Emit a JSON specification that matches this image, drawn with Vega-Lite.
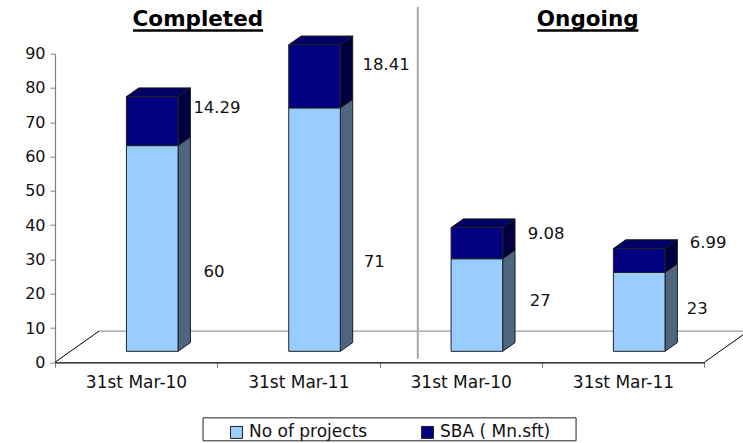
{
"$schema":"https://vega.github.io/schema/vega-lite/v6.json",
"width":649.3,"height":308.6,
"autosize":{"type":"none"},
"padding":{"left":55,"top":53.7,"right":38.7,"bottom":80.7},
"background":"white",
"config":{"view":{"stroke":null},"font":"DejaVu Sans"},
"data":{"values":[{"chart":"frame"}]},
"datasets":{"bars":[
{"status":"Completed","period":"31st Mar-10","slot":0,"series":"No of projects","order":0,"value":60},
{"status":"Completed","period":"31st Mar-10","slot":0,"series":"SBA ( Mn.sft)","order":1,"value":14.29},
{"status":"Completed","period":"31st Mar-11","slot":1,"series":"No of projects","order":0,"value":71},
{"status":"Completed","period":"31st Mar-11","slot":1,"series":"SBA ( Mn.sft)","order":1,"value":18.41},
{"status":"Ongoing","period":"31st Mar-10","slot":2,"series":"No of projects","order":0,"value":27},
{"status":"Ongoing","period":"31st Mar-10","slot":2,"series":"SBA ( Mn.sft)","order":1,"value":9.08},
{"status":"Ongoing","period":"31st Mar-11","slot":3,"series":"No of projects","order":0,"value":23},
{"status":"Ongoing","period":"31st Mar-11","slot":3,"series":"SBA ( Mn.sft)","order":1,"value":6.99}
],
"titles":[{"status":"Completed","cx":0.88,"x0":0.481,"x1":1.282},{"status":"Ongoing","cx":3.282,"x0":2.971,"x1":3.594}]},
"layer":[
{"mark":{"type":"rule","color":"#808080","strokeWidth":1},
 "encoding":{
  "x":{"datum":0.271,"type":"quantitative","title":null,"scale":{"domain":[0,4],"nice":false,"zero":false},
   "axis":{"values":[0,1,2,3,4],"grid":false,"domainColor":"#000000","domainWidth":1.2,"tickColor":"#808080","tickSize":5,"labelOffset":81,"labelPadding":7,"labelFontSize":17,"labelColor":"#111111","labelFont":"DejaVu Sans","labelOverlap":false,"labelFlush":false,"labelExpr":"datum.value==0||datum.value==2?'31st Mar-10':(datum.value==1||datum.value==3?'31st Mar-11':'')"}},
  "x2":{"datum":4.3},
  "y":{"datum":9.1,"type":"quantitative","title":null,"scale":{"domain":[0,90],"nice":false,"zero":false},
   "axis":{"values":[0,10,20,30,40,50,60,70,80,90],"tickCount":10,"grid":false,"domainColor":"#808080","domainWidth":1.2,"tickColor":"#808080","tickSize":5,"labelPadding":5,"labelFontSize":16,"labelColor":"#111111","labelFont":"DejaVu Sans","labelOverlap":false,"labelFlush":false}}
 }},
{"mark":{"type":"rule","color":"#000000","strokeWidth":1},
 "encoding":{"x":{"datum":0,"type":"quantitative","title":null},"x2":{"datum":0.271},"y":{"datum":0,"type":"quantitative","title":null},"y2":{"datum":9.1}}},
{"mark":{"type":"rule","color":"#000000","strokeWidth":1},
 "encoding":{"x":{"datum":4,"type":"quantitative","title":null},"x2":{"datum":4.271},"y":{"datum":0,"type":"quantitative","title":null},"y2":{"datum":9.1}}},
{"mark":{"type":"rule","color":"#A6A6A6","strokeWidth":2},
 "encoding":{"x":{"datum":2.235,"type":"quantitative","title":null},"y":{"datum":1,"type":"quantitative","title":null},"y2":{"datum":103.6}}},
{"data":{"name":"bars"},
 "transform":[
  {"stack":"value","groupby":["slot"],"sort":[{"field":"order","order":"ascending"}],"as":["v0","v1"]},
  {"calculate":"[0,1]","as":"ts"},{"flatten":["ts"]},
  {"calculate":"datum.slot+0.758+datum.ts*0.076","as":"sx"},
  {"calculate":"datum.v0+3.2+datum.ts*2.54","as":"sy0"},
  {"calculate":"datum.v1+3.2+datum.ts*2.54","as":"sy1"},
  {"calculate":"datum.slot+'-'+datum.order","as":"face"}
 ],
 "mark":{"type":"area","stroke":"#1a1a1a","strokeWidth":1},
 "encoding":{
  "x":{"field":"sx","type":"quantitative","title":null},
  "y":{"field":"sy0","type":"quantitative","title":null,"stack":null},
  "y2":{"field":"sy1"},
  "detail":{"field":"face"},
  "color":{"field":"series","type":"nominal","legend":null,"scale":{"domain":["No of projects","SBA ( Mn.sft)"],"range":["#4F6680","#000040"]}}
 }},
{"data":{"name":"bars"},
 "transform":[
  {"stack":"value","groupby":["slot"],"sort":[{"field":"order","order":"ascending"}],"as":["v0","v1"]},
  {"filter":"datum.order==1"},
  {"calculate":"[0,1,2,3]","as":"st"},{"flatten":["st"]},
  {"calculate":"datum.slot+0.44+[0,0.076,0.318,0.394][datum.st]","as":"tx"},
  {"calculate":"datum.v1+3.2+[0,0,0,2.54][datum.st]","as":"ty0"},
  {"calculate":"datum.v1+3.2+[0,2.54,2.54,2.54][datum.st]","as":"ty1"}
 ],
 "mark":{"type":"area","stroke":"#1a1a1a","strokeWidth":1,"fill":"#000066"},
 "encoding":{
  "x":{"field":"tx","type":"quantitative","title":null},
  "y":{"field":"ty0","type":"quantitative","title":null,"stack":null},
  "y2":{"field":"ty1"},
  "detail":{"field":"slot"}
 }},
{"data":{"name":"bars"},
 "transform":[
  {"stack":"value","groupby":["slot"],"sort":[{"field":"order","order":"ascending"}],"as":["v0","v1"]},
  {"calculate":"datum.slot+0.44","as":"fx0"},
  {"calculate":"datum.slot+0.758","as":"fx1"},
  {"calculate":"datum.v0+3.2","as":"fy0"},
  {"calculate":"datum.v1+3.2","as":"fy1"}
 ],
 "mark":{"type":"rect","stroke":"#222222","strokeWidth":1},
 "encoding":{
  "x":{"field":"fx0","type":"quantitative","title":null},
  "x2":{"field":"fx1"},
  "y":{"field":"fy0","type":"quantitative","title":null},
  "y2":{"field":"fy1"},
  "color":{"field":"series","type":"nominal","scale":{"domain":["No of projects","SBA ( Mn.sft)"],"range":["#99CCFF","#000080"]},
   "legend":{"title":null,"orient":"none","direction":"horizontal","columns":2,"legendX":173,"legendY":370,"padding":0,"symbolType":"square","symbolSize":144,"symbolStrokeColor":"#222222","symbolStrokeWidth":1,"labelFontSize":17,"labelColor":"#111111","labelFont":"DejaVu Sans","columnPadding":51,"labelOffset":4}}
 }},
{"data":{"name":"bars"},
 "transform":[
  {"calculate":"{'60':0.98,'14.29':0.998,'71':1.966,'18.41':2.04,'27':2.989,'9.08':3.026,'23':3.957,'6.99':4.024}[''+datum.value]","as":"lx"},
  {"calculate":"{'60':26.3,'14.29':74.2,'71':29.3,'18.41':86.7,'27':17.9,'9.08':37.4,'23':15.5,'6.99':34.8}[''+datum.value]","as":"ly"}
 ],
 "mark":{"type":"text","fontSize":16.5,"color":"#111111","align":"center","baseline":"middle","font":"DejaVu Sans"},
 "encoding":{
  "x":{"field":"lx","type":"quantitative","title":null},
  "y":{"field":"ly","type":"quantitative","title":null},
  "text":{"field":"value","type":"quantitative","format":"~r"}
 }},
{"data":{"name":"titles"},
 "mark":{"type":"text","fontSize":21.5,"fontWeight":"bold","color":"#000000","align":"center","baseline":"middle","font":"DejaVu Sans"},
 "encoding":{
  "x":{"field":"cx","type":"quantitative","title":null},
  "y":{"datum":99.7,"type":"quantitative","title":null},
  "text":{"field":"status","type":"nominal"}
 }},
{"data":{"name":"titles"},
 "mark":{"type":"rule","color":"#000000","strokeWidth":2.5},
 "encoding":{
  "x":{"field":"x0","type":"quantitative","title":null},
  "x2":{"field":"x1"},
  "y":{"datum":96.8,"type":"quantitative","title":null}
 }},
{"mark":{"type":"rect","fill":null,"stroke":"#222222","strokeWidth":1},
 "encoding":{
  "x":{"datum":0.912,"type":"quantitative","title":null},"x2":{"datum":3.21},
  "y":{"datum":-16.2,"type":"quantitative","title":null},"y2":{"datum":-22.9}
 }}
],
"resolve":{"scale":{"color":"independent"}}
}
